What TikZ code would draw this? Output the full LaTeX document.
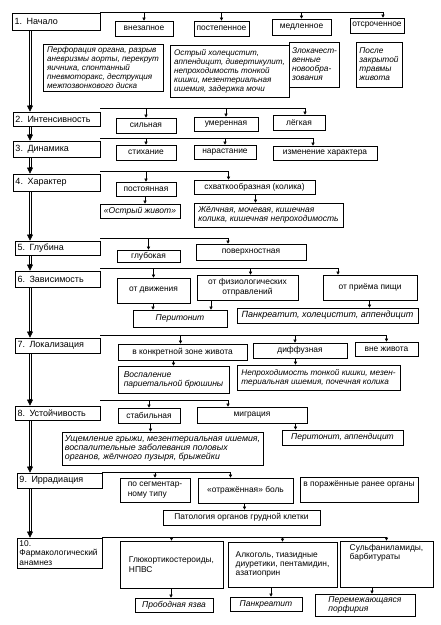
\documentclass[tikz,border=0pt]{standalone}
\usepackage{fontspec}
\setmainfont{Liberation Sans}
\usetikzlibrary{arrows.meta}
\tikzset{
 bxs/.style={draw, line width=0.6pt, inner xsep=2.5pt, inner ysep=1pt, font=\fontsize{8.4}{9.4}\selectfont, align=center},
 mainb/.style={bxs, tw, align=left, line width=0.8pt, font=\fontsize{9}{9.6}\selectfont},
 itb/.style={bxs, font=\fontsize{8.5}{9}\selectfont\itshape},
 fs/.style={font=\fontsize{#1}{9}\selectfont\itshape},
 lft/.style={align=left},
 revarr/.style={{Triangle[length=3pt,width=3pt]}-, line width=0.5pt},
 tl/.style={line width=0.55pt, shorten >=5pt},
 trunkt/.style={-{Triangle[length=6pt,width=6pt]}, line width=0.5pt}
}
\newcommand\Bx[7][]{%
 \pgfmathsetmacro\bxw{#4-#2}%
 \pgfmathsetmacro\bxh{#5-#3}%
 \pgfmathsetmacro\bxt{#4-#2-5}%
 \pgfmathsetmacro\bxx{(#2+#4)/2}%
 \pgfmathsetmacro\bxy{(#3+#5)/2}%
 \node[bxs,minimum width=\bxw pt,minimum height=\bxh pt,tw/.style={text width=\bxt pt},#1] (#6) at (\bxx,\bxy) {#7};}
\newcommand\Trk[2]{%
 \draw[tl] (#1.south -| txl) -- (#2.north -| txl);
 \draw[tl] (#1.south -| txr) -- (#2.north -| txr);
 \draw[trunkt] (#2.north -| tx) ++(0,-7) -- (#2.north -| tx);}
\begin{document}
\begin{tikzpicture}[x=1pt,y=-1pt]
\useasboundingbox (0,0) rectangle (441,625);
\coordinate (tx) at (30,0);
\coordinate (txl) at (28.9,0);
\coordinate (txr) at (31.1,0);
% main column
\Bx[mainb]{12}{13}{100}{30}{b1}{1. Начало}
\Bx[mainb]{13}{112}{100}{126}{b2}{2. Интенсивность}
\Bx[mainb]{13}{141}{100}{157}{b3}{3. Динамика}
\Bx[mainb]{13}{174}{100}{191}{b4}{4. Характер}
\Bx[mainb]{15}{241}{100}{255}{b5}{5. Глубина}
\Bx[mainb]{15}{271}{100}{287}{b6}{6. Зависимость}
\Bx[mainb]{15}{338}{100}{353}{b7}{7. Локализация}
\Bx[mainb]{15}{406}{100}{420}{b8}{8. Устойчивость}
\Bx[mainb]{17}{473}{102}{488}{b9}{9. Иррадиация}
\Bx[mainb,font=\fontsize{8.4}{9.6}\selectfont]{17}{538}{102}{568}{b10}{10.\\Фармакологический\\анамнез}
\Trk{b1}{b2}\Trk{b2}{b3}\Trk{b3}{b4}\Trk{b4}{b5}\Trk{b5}{b6}
\Trk{b6}{b7}\Trk{b7}{b8}\Trk{b8}{b9}\Trk{b9}{b10}
% bus coordinates
\coordinate (l1) at (100,12);
\coordinate (l2) at (100,108);
\coordinate (l3) at (100,138);
\coordinate (l4) at (100,171);
\coordinate (l5) at (100,238);
\coordinate (l6) at (100,268);
\coordinate (l7) at (100,335);
\coordinate (l8) at (100,400);
\coordinate (l9) at (102,472);
\coordinate (l10) at (102,537);
% level 1
\Bx{115}{21}{173}{36}{c11}{внезапное}
\Bx{194}{21}{249}{36}{c12}{постепенное}
\Bx{272}{19}{331}{35}{c13}{медленное}
\Bx{351}{18}{403}{33}{c14}{отсроченное}
\Bx[itb,lft,fs=8.1]{43}{44}{163}{91}{g11}{Перфорация органа, разрыв\\аневризмы аорты, перекрут\\яичника, спонтанный\\пневмоторакс, деструкция\\межпозвонкового диска}
\Bx[itb,lft,fs=8.1]{170}{45}{289}{97}{g12}{Острый холецистит,\\аппендицит, дивертикулит,\\непроходимость тонкой\\кишки, мезентериальная\\ишемия, задержка мочи}
\Bx[itb,lft,fs=8.3]{297}{42}{332}{87}{g13}{Злокачест-\\венные\\новообра-\\зования}
\Bx[itb,lft,fs=8.3]{356}{42}{402}{87}{g14}{После\\закрытой\\травмы\\живота}
\draw[revarr] (c11.north) |- (l1);
\draw[revarr] (c12.north) |- (l1);
\draw[revarr] (c13.north) |- (l1);
\draw[revarr] ([xshift=6pt]c14.north) |- (l1);
% level 2
\Bx{116}{118}{176}{133}{c21}{сильная}
\Bx{194}{117}{258}{131}{c22}{умеренная}
\Bx{273}{115}{325}{130}{c23}{лёгкая}
\draw[revarr] (c21.north) |- (l2);
\draw[revarr] (c22.north) |- (l2);
\draw[revarr] ([xshift=6pt]c23.north) |- (l2);
% level 3
\Bx{116}{145}{176}{160}{c31}{стихание}
\Bx{194}{145}{256}{159}{c32}{нарастание}
\Bx{273}{146}{377}{160}{c33}{изменение характера}
\draw[revarr] (c31.north) |- (l3);
\draw[revarr] (c32.north) |- (l3);
\draw[revarr] ([xshift=-12pt]c33.north) |- (l3);
% level 4
\Bx{116}{182}{176}{196}{c41}{постоянная}
\Bx{194}{180}{315}{194}{c42}{схваткообразная (колика)}
\Bx[itb]{100}{204}{180}{218}{g41}{«Острый живот»}
\Bx[itb,lft]{194}{203}{343}{227}{g42}{Жёлчная, мочевая, кишечная\\колика, кишечная непроходимость}
\draw[revarr] (c41.north) |- (l4);
\draw[revarr] ([xshift=-26pt]c42.north) |- (l4);
\draw[revarr] ([xshift=5pt]g41.north) |- (c41.south);
\draw[revarr] ([xshift=-13pt]g42.north) |- (c42.south);
% level 5
\Bx{117}{250}{180}{262}{c51}{глубокая}
\Bx{196}{244}{306}{260}{c52}{поверхностная}
\draw[revarr] (c51.north) |- (l5);
\draw[revarr] ([xshift=-23pt]c52.north) |- (l5);
% level 6
\Bx{117}{278}{190}{303}{c61}{от движения}
\Bx{197}{275}{298}{300}{c62}{от физиологических\\отправлений}
\Bx{323}{275}{417}{300}{c63}{от приёма пищи}
\Bx[itb]{133}{310}{227}{327}{g61}{Перитонит}
\Bx[itb,fs=9]{237}{308}{418}{323}{g62}{Панкреатит, холецистит, аппендицит}
\draw[revarr] (c61.north) |- (l6);
\draw[revarr] ([xshift=3pt]c62.north) |- (l6);
\draw[revarr] ([xshift=-32pt]c63.north) |- (l6);
\draw[revarr] ([xshift=-27pt]g61.north) |- (c61.south);
\draw[revarr] ([xshift=31pt]g61.north) |- (c62.south);
\draw[revarr] ([xshift=42pt]g62.north) |- (c63.south);
% level 7
\Bx{118}{344}{247}{360}{c71}{в конкретной зоне живота}
\Bx{253}{343}{347}{358}{c72}{диффузная}
\Bx{355}{342}{418}{356}{c73}{вне живота}
\Bx[itb,lft]{118}{366}{229}{393}{g71}{Воспаление\\париетальной брюшины}
\Bx[itb,lft,fs=8.2]{237}{365}{400}{390}{g72}{Непроходимость тонкой кишки, мезен-\\териальная ишемия, почечная колика}
\draw[revarr] ([xshift=-2pt]c71.north) |- (l7);
\draw[revarr] ([xshift=-5pt]c72.north) |- (l7);
\draw[revarr] (c73.north) |- (l7);
\draw[revarr] (g71.north) |- (c71.south);
\draw[revarr] ([xshift=-23pt]g72.north) |- (c72.south);
% level 8
\Bx{118}{408}{180}{423}{c81}{стабильная}
\Bx{197}{407}{307}{423}{c82}{миграция}
\Bx[itb,lft,fs=8.8]{62}{432}{263}{465}{g81}{Ущемление грыжи, мезентериальная ишемия,\\воспалительные заболевания половых\\органов, жёлчного пузыря, брыжейки}
\Bx[itb]{282}{430}{403}{445}{g82}{Перитонит, аппендицит}
\draw[revarr] (c81.north) |- (l8);
\draw[revarr] ([xshift=-24pt]c82.north) |- (l8);
\draw[revarr] ([xshift=-12pt]g81.north) |- (c81.south);
\draw[revarr] ([xshift=-47pt]g82.north) |- (c82.south);
% level 9
\Bx[lft]{120}{478}{190}{502}{c91}{по сегментар-\\ному типу}
\Bx{198}{478}{293}{503}{c92}{«отражённая» боль}
\Bx[text depth=11pt]{300}{477}{418}{502}{c93}{в поражённые ранее органы}
\Bx{163}{510}{320}{525}{g9}{Патология органов грудной клетки}
\draw[revarr] (c91.north) |- (l9);
\draw[revarr] ([xshift=-15pt]c92.north) |- (l9);
\draw[revarr] ([xshift=3pt]g9.north) |- (c92.south);
% level 10
\Bx[lft]{120}{541}{223}{588}{c101}{Глюкортикостероиды,\\НПВС}
\Bx[lft]{228}{542}{337}{587}{c102}{Алкоголь, тиазидные\\диуретики, пентамидин,\\азатиоприн}
\Bx[lft,text depth=24pt]{340}{541}{433}{587}{c103}{Сульфаниламиды,\\барбитураты}
\Bx[itb]{135}{598}{213}{612}{g101}{Прободная язва}
\Bx[itb]{230}{597}{302}{611}{g102}{Панкреатит}
\Bx[itb,lft]{315}{594}{415}{616}{g103}{Перемежающаяся\\порфирия}
\draw[revarr] (c101.north) |- (l10);
\draw[revarr] (c102.north) |- (l10);
\draw[revarr] (c103.north) |- (l10);
\draw[revarr] ([xshift=-3pt]g101.north) |- (c101.south);
\draw[revarr] ([xshift=5pt]g102.north) |- (c102.south);
\draw[revarr] ([xshift=7pt]g103.north) |- (c103.south);
\end{tikzpicture}
\end{document}
